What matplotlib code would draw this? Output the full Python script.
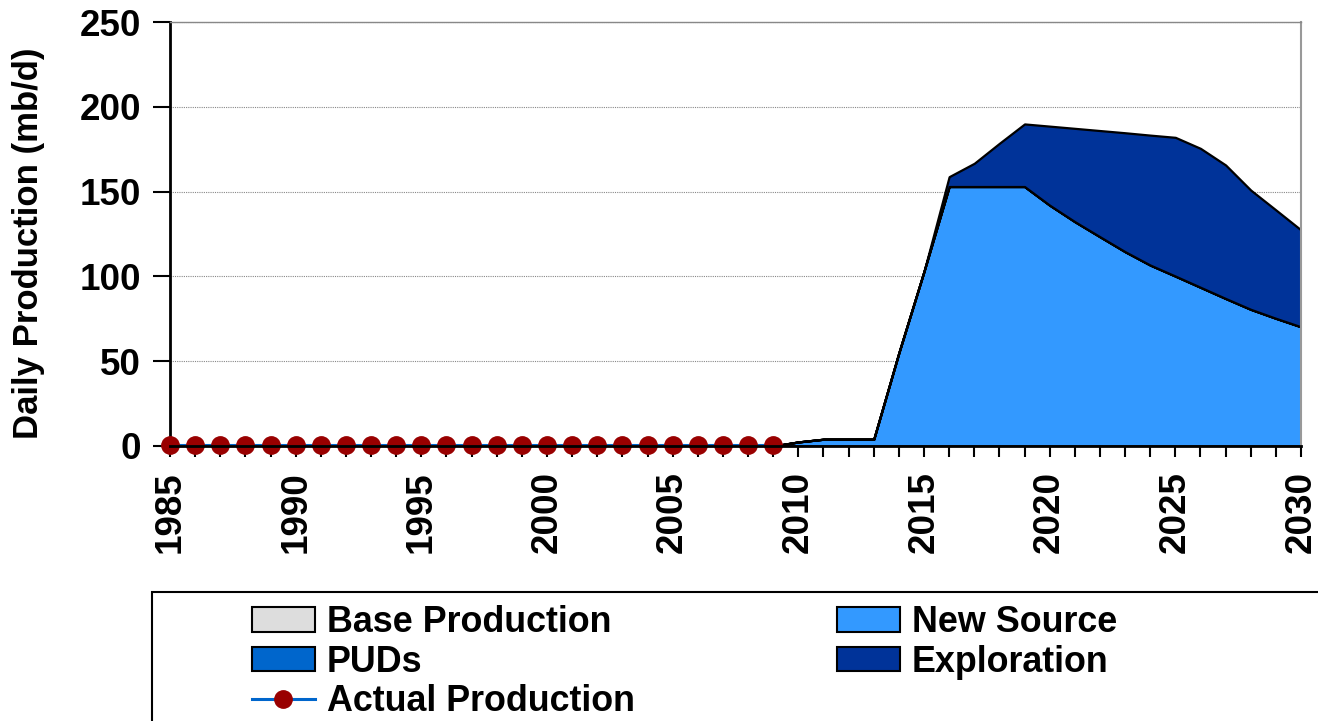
import matplotlib.pyplot as plt
from matplotlib.patches import Patch, Rectangle
from matplotlib.lines import Line2D
from matplotlib.ticker import MultipleLocator
import numpy as np

years = list(range(1985, 2031))

base_production = [0] * 46
new_source = [0] * 24 + [0, 2.4, 4, 4, 4, 55, 103, 153, 153, 153, 153,
                         142, 132.3, 123.4, 114.6, 106.7, 100.2, 93.6, 87, 80.6, 75.3, 70.3]
puds = [0] * 46
exploration = [0] * 31 + [5.8, 13.7, 25.5, 36.9, 46.6, 55, 62.6, 70.1, 76.6,
                          81.8, 81.9, 78.7, 70.3, 63.9, 57.1]

actual_years = list(range(1985, 2010))
actual_production = [0.8] * 25

labels = ['Base Production', 'New Source', 'PUDs', 'Exploration', 'Actual Production']
colors = ['#DDDDDD', '#3399FF', '#0066CC', '#003399']

plt.rcParams['font.family'] = ['Liberation Sans', 'DejaVu Sans']
plt.rcParams['font.weight'] = 'bold'

fig = plt.figure(figsize=(13.18, 7.21), dpi=100)
ax = fig.add_axes([170 / 1318, 1 - 446 / 721, 1131 / 1318, 424 / 721])

ax.stackplot(years, base_production, new_source, puds, exploration,
             colors=colors, edgecolor='black', linewidth=1.6, zorder=2)
ax.plot(actual_years, actual_production, color='#0066CC', linewidth=2.2,
        marker='o', markersize=12.5, markerfacecolor='#990000',
        markeredgecolor='#990000', zorder=4, clip_on=False)

ax.set_xlim(1985, 2030)
ax.set_ylim(0, 250)
ax.xaxis.set_major_locator(MultipleLocator(5))
ax.xaxis.set_minor_locator(MultipleLocator(1))
ax.yaxis.set_major_locator(MultipleLocator(50))
ax.tick_params(axis='x', which='both', direction='out', length=8, width=1.5,
               labelsize=26.5, labelrotation=90, pad=10)
ax.tick_params(axis='y', direction='out', length=12, width=1.5, labelsize=26.5, pad=9)
for lab in ax.get_xticklabels() + ax.get_yticklabels():
    lab.set_fontweight('bold')

ax.grid(axis='y', color='#888888', linestyle=(0, (1, 1)), linewidth=0.8, zorder=0)
ax.set_axisbelow(True)
ax.spines['left'].set_linewidth(2)
ax.spines['bottom'].set_linewidth(2)
ax.spines['bottom'].set_zorder(5)
ax.spines['top'].set_color('#888888')
ax.spines['top'].set_linewidth(1)
ax.spines['right'].set_color('#999999')
ax.spines['right'].set_linewidth(1.5)

ax.set_ylabel('Daily Production (mb/d)', fontsize=25, fontweight='bold')
ax.yaxis.set_label_coords(-0.1105, 0.478)

# legend handles, column-major so entries read row by row
h_base = Patch(facecolor=colors[0], edgecolor='black', linewidth=1.5)
h_new = Patch(facecolor=colors[1], edgecolor='black', linewidth=1.5)
h_puds = Patch(facecolor=colors[2], edgecolor='black', linewidth=1.5)
h_expl = Patch(facecolor=colors[3], edgecolor='black', linewidth=1.5)
h_act = Line2D([], [], color='#0066CC', linewidth=2.2, marker='o', markersize=12.5,
               markerfacecolor='#990000', markeredgecolor='#990000')

fig.legend([h_base, h_puds, h_act, h_new, h_expl],
           [labels[0], labels[2], labels[4], labels[1], labels[3]],
           ncol=2, loc='upper left', bbox_to_anchor=(252 / 1318, 1 - 605 / 721),
           frameon=False, borderpad=0, borderaxespad=0,
           prop={'size': 25.8, 'weight': 'bold'},
           handlelength=1.75, handleheight=0.67, handletextpad=0.33,
           labelspacing=0.13, columnspacing=5.65)

fig.add_artist(Rectangle((152 / 1318, -0.05), 1.0, 1 - 592 / 721 + 0.05,
                         transform=fig.transFigure, fill=False,
                         edgecolor='black', linewidth=1.5))

fig.savefig('out.png', dpi=100)
